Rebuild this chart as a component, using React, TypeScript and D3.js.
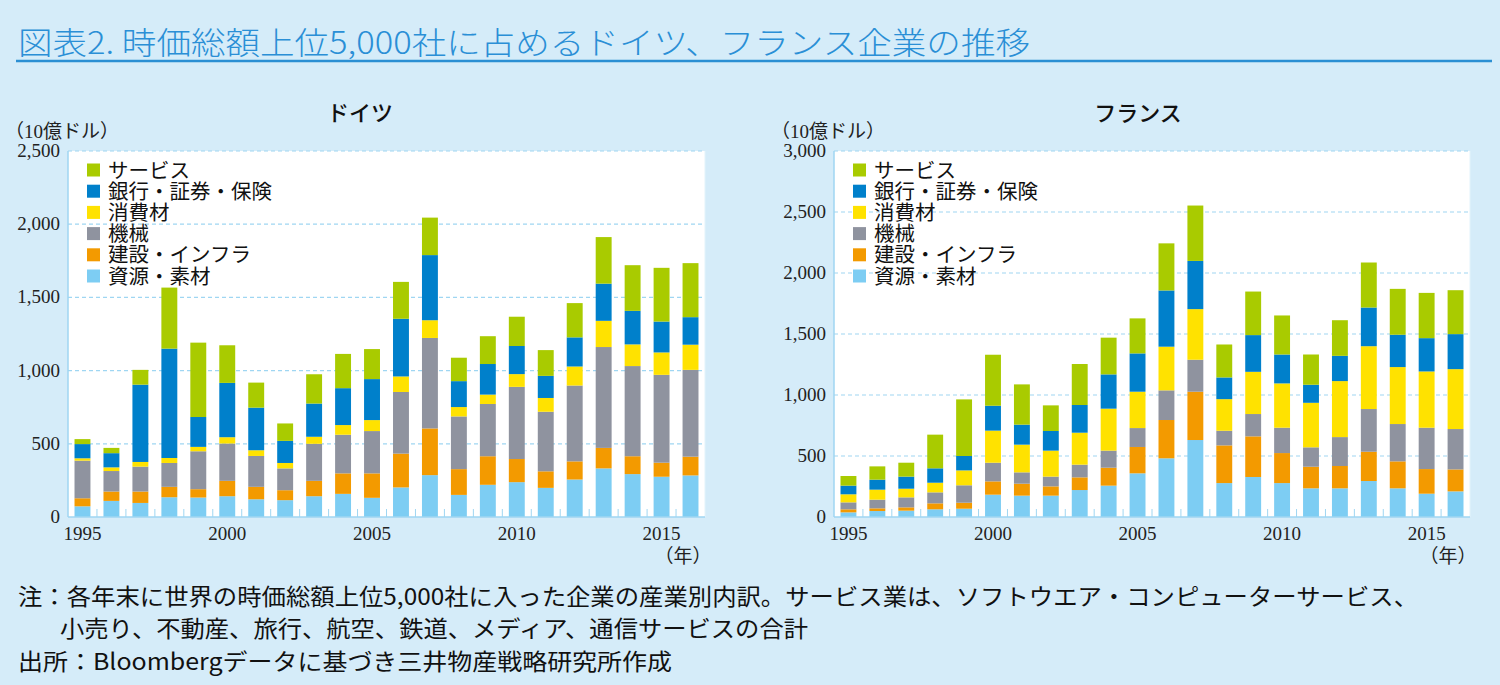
import React from 'react';
import * as d3 from 'd3';

// 年（1995–2016）
const years = d3.range(1995, 2017);
const yearLabels = [1995, 2000, 2005, 2010, 2015];

// 系列（下から積み上げ順）
const seriesNames = ['資源・素材', '建設・インフラ', '機械', '消費材', '銀行・証券・保険', 'サービス'];
const seriesColors = ['#7dcdf3', '#f39a00', '#8f939f', '#ffe200', '#0080cb', '#a9cb00'];

// ドイツ（10億ドル）
const deResources = [73, 110, 96, 135, 133, 142, 121, 115, 142, 158, 131, 202, 286, 151, 220, 238, 199, 256, 332, 293, 275, 284];
const deConstruction = [55, 64, 78, 71, 57, 105, 85, 68, 105, 140, 167, 231, 319, 176, 195, 158, 113, 124, 140, 122, 96, 128];
const deMachinery = [257, 140, 170, 163, 259, 255, 211, 149, 253, 264, 289, 421, 618, 360, 357, 493, 407, 518, 689, 616, 600, 593];
const deConsumer = [16, 25, 32, 34, 30, 43, 39, 37, 48, 66, 75, 106, 121, 64, 64, 87, 94, 130, 179, 148, 153, 172];
const deBanks = [97, 97, 528, 747, 204, 371, 291, 151, 227, 252, 280, 394, 445, 177, 209, 192, 151, 199, 254, 229, 211, 188];
const deServices = [34, 36, 101, 417, 508, 257, 171, 119, 200, 234, 205, 252, 256, 160, 190, 200, 176, 234, 318, 312, 367, 369];

// フランス（10億ドル）
const frResources = [38, 49, 52, 63, 68, 183, 175, 175, 221, 257, 358, 481, 631, 278, 328, 278, 235, 235, 295, 235, 191, 210];
const frConstruction = [25, 22, 27, 49, 49, 109, 98, 76, 104, 147, 216, 314, 396, 309, 333, 246, 177, 183, 240, 221, 202, 180];
const frMachinery = [57, 71, 82, 90, 143, 153, 93, 80, 104, 140, 155, 243, 262, 120, 183, 208, 159, 237, 350, 306, 339, 331];
const frConsumer = [66, 82, 71, 79, 122, 263, 227, 213, 262, 344, 298, 358, 415, 259, 346, 363, 365, 459, 515, 467, 461, 491];
const frBanks = [71, 82, 99, 118, 118, 204, 164, 161, 227, 281, 314, 461, 395, 178, 301, 237, 148, 207, 317, 265, 273, 287];
const frServices = [79, 109, 114, 276, 464, 418, 330, 210, 336, 301, 287, 386, 454, 270, 357, 320, 248, 292, 369, 376, 371, 360];

const deTicks = [0, 500, 1000, 1500, 2000, 2500];
const frTicks = [0, 500, 1000, 1500, 2000, 2500, 3000];

const SANS = '"Noto Sans CJK JP", "Noto Sans", sans-serif';
const SERIF = '"Liberation Serif", "DejaVu Serif", "Noto Sans CJK JP", serif';
const BG = '#d5ecf9';
const GRID = '#9fd6f2';

function buildRows(cols: number[][]) {
  return years.map((y, i) => {
    const row: Record<string, number> = { year: y };
    seriesNames.forEach((s, k) => { row[s] = cols[k][i]; });
    return row;
  });
}

interface PanelProps {
  title: string;
  titleX: number;
  cols: number[][];
  maxY: number;
  ticks: number[];
  x0: number;
  x1: number;
  labelX: number;
  legendX: number;
}

function Panel({ title, titleX, cols, maxY, ticks, x0, x1, labelX, legendX }: PanelProps) {
  const top = 151;
  const bottom = 517;
  const x = d3.scaleBand<number>()
    .domain(years)
    .range([x0, x1])
    .paddingInner(0.45)
    .paddingOuter(0.225);
  const y = d3.scaleLinear().domain([0, maxY]).range([bottom, top]);
  const stacked = d3.stack<Record<string, number>>().keys(seriesNames)(buildRows(cols));
  const bw = x.bandwidth();
  const gap = x.step() - bw;
  const fmt = d3.format(',');

  return (
    <g>
      <text x={titleX} y={121} textAnchor="middle" fontFamily={SANS} fontSize={22} fontWeight={500} fill="#111">{title}</text>
      <text x={labelX - 55} y={138} fontFamily={SERIF} fontSize={19} fill="#222">（10億ドル）</text>
      <rect x={x0} y={top} width={x1 - x0} height={bottom - top} fill="#fff" />
      {ticks.filter(t => t > 0).map(t => (
        <line key={t} x1={x0} x2={x1} y1={y(t)} y2={y(t)} stroke={GRID} strokeWidth={1.2} strokeDasharray="4,3" />
      ))}
      {ticks.map(t => (
        <text key={t} x={labelX} y={y(t) + 6} textAnchor="end" fontFamily={SERIF} fontSize={19} fill="#222">{fmt(t)}</text>
      ))}
      {stacked.map((s, k) => (
        <g key={s.key} fill={seriesColors[k]}>
          {s.map((d, i) => (
            <rect key={i} x={x(years[i])} y={y(d[1])} width={bw} height={y(d[0]) - y(d[1])} />
          ))}
        </g>
      ))}
      <line x1={x0} x2={x0} y1={top} y2={bottom} stroke={GRID} strokeWidth={1.5} />
      <line x1={x1} x2={x1} y1={top} y2={bottom} stroke="#e3f3fb" strokeWidth={1} />
      <line x1={x0} x2={x1} y1={bottom} y2={bottom} stroke={GRID} strokeWidth={1.5} />
      {years.slice(0, -1).map(yr => {
        const tx = (x(yr) as number) + bw + gap / 2;
        return <line key={yr} x1={tx} x2={tx} y1={bottom} y2={bottom - 8} stroke={GRID} strokeWidth={1} />;
      })}
      {yearLabels.map(yr => (
        <text key={yr} x={(x(yr) as number) + bw / 2} y={540} textAnchor="middle" fontFamily={SERIF} fontSize={19} fill="#222">{yr}</text>
      ))}
      <text x={x1 - 22} y={563} textAnchor="middle" fontFamily={SERIF} fontSize={19} fill="#222">（年）</text>
      {seriesNames.slice().reverse().map((name, i) => {
        const cy = 170 + i * 21.2;
        return (
          <g key={name}>
            <rect x={legendX} y={cy - 6.5} width={13} height={13} fill={seriesColors[seriesNames.length - 1 - i]} />
            <text x={legendX + 21} y={cy + 7.5} fontFamily={SANS} fontSize={20.5} fill="#111">{name}</text>
          </g>
        );
      })}
    </g>
  );
}

export default function App() {
  return (
    <div style={{ position: 'absolute', left: 0, top: 0 }}>
      <svg width={1500} height={685} viewBox="0 0 1500 685">
        <rect x={0} y={0} width={1500} height={685} fill={BG} />
        <text x={18} y={54} fontFamily={SANS} fontSize={31} fontWeight={300} fill="#2a8fd6" textLength={1012} lengthAdjust="spacingAndGlyphs">
          図表2. 時価総額上位5,000社に占めるドイツ、フランス企業の推移
        </text>
        <line x1={16} x2={1492} y1={61} y2={61} stroke="#2b8fd3" strokeWidth={2.5} />
        <Panel
          title="ドイツ"
          titleX={360}
          cols={[deResources, deConstruction, deMachinery, deConsumer, deBanks, deServices]}
          maxY={2500}
          ticks={deTicks}
          x0={68}
          x1={705}
          labelX={60}
          legendX={87}
        />
        <Panel
          title="フランス"
          titleX={1138}
          cols={[frResources, frConstruction, frMachinery, frConsumer, frBanks, frServices]}
          maxY={3000}
          ticks={frTicks}
          x0={834}
          x1={1470}
          labelX={826}
          legendX={853}
        />
        <text x={18} y={605} fontFamily={SANS} fontSize={23} fill="#111" textLength={1400} lengthAdjust="spacingAndGlyphs">
          注：各年末に世界の時価総額上位5,000社に入った企業の産業別内訳。サービス業は、ソフトウエア・コンピューターサービス、
        </text>
        <text x={60} y={637} fontFamily={SANS} fontSize={23} fill="#111" textLength={748} lengthAdjust="spacingAndGlyphs">
          小売り、不動産、旅行、航空、鉄道、メディア、通信サービスの合計
        </text>
        <text x={18} y={670} fontFamily={SANS} fontSize={23} fill="#111" textLength={654} lengthAdjust="spacingAndGlyphs">
          出所：Bloombergデータに基づき三井物産戦略研究所作成
        </text>
      </svg>
    </div>
  );
}
